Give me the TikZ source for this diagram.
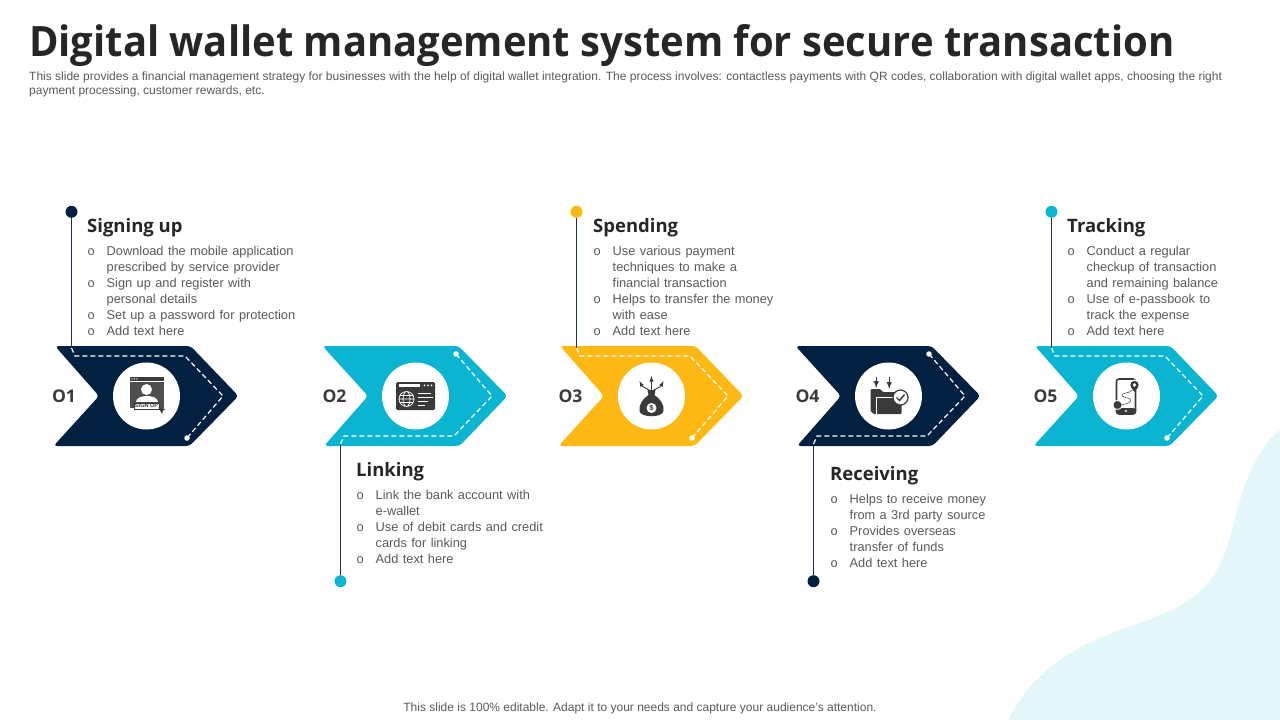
\documentclass[tikz,border=0pt]{standalone}
\usepackage{fontspec}
\setmainfont{Liberation Sans}
\newfontfamily\headfont{Open Sans}
\newfontfamily\titlefont[FakeStretch=0.955]{Open Sans}
\newfontfamily\listfont[WordSpace=1.24]{Liberation Sans}
\newfontfamily\bulletfont{Liberation Mono}
\usetikzlibrary{positioning}
\definecolor{navyblue}{HTML}{02203F}
\definecolor{tealblue}{HTML}{0BB4D0}
\definecolor{sunyellow}{HTML}{FDB813}
\definecolor{inkgrey}{HTML}{262626}
\definecolor{bodygrey}{HTML}{595959}
\definecolor{icongrey}{HTML}{3A3A3A}
\definecolor{blobblue}{HTML}{E3F6FA}
\newcommand{\bitem}{\makebox[19.5pt][l]{\hspace{.2pt}\bulletfont o}}
\newcommand{\bcont}{\hspace*{19.5pt}}

\tikzset{
    chevron/.pic={
        \fill[#1, rounded corners=3.5pt] (0,-50) -- (135.5,-50) -- (183.5,0) -- (134.5,50) -- (-1.5,50) -- (44,0) -- cycle;
        \coordinate (-start) at (16.5,-48);
        \draw[stitch] (-start) -- (20,-40) -- (130,-40) -- (168,0) -- (132,42);
        \node[stitchend] (-end) at (132,42) {};
        \node[disc] (-disc) at (91.5,0) {};
    },
    signupicon/.pic={
        \fill[icongrey] (-16.5,-19) rectangle (17,-15.5);
        \fill[white] (-14.5,-17.2) circle (0.7) (-12,-17.2) circle (0.7) (-9.5,-17.2) circle (0.7);
        \fill[icongrey!90!white] (-16.5,-14.5) rectangle (17,12);
        \fill[white] (0,-6.5) circle (5.5);
        \fill[white] (-11,6) .. controls (-11,-2) and (11,-2) .. (11,6) -- cycle;
        \node[fill=white, draw=icongrey, line width=.6pt, inner sep=1pt, font=\bfseries\fontsize{5.6}{5.6}\selectfont, text=icongrey] (-btn) at (0,10) {SIGN UP};
        \fill[icongrey] (12,11) -- (19,13) -- (16.5,14.5) -- (15.5,18) -- cycle;
    },
    webicon/.pic={
        \fill[icongrey, rounded corners=1.5pt] (-19.5,-14) rectangle (19.5,14);
        \fill[white] (-17,-12) rectangle (4,-9.5);
        \fill[white] (9,-10.7) circle (1) (12.5,-10.7) circle (1) (16,-10.7) circle (1);
        \draw[white, line width=.7pt] (-9,3) circle (7.5) (-9,3) ellipse (3.5 and 7.5) (-16.5,3) -- (-1.5,3) (-15.5,-.5) -- (-2.5,-.5) (-15.5,6.5) -- (-2.5,6.5);
        \draw[white, line width=.7pt] (2,-3) -- (15,-3) (2,1) -- (17,1) (2,5) -- (12,5) (2,9) -- (9,9);
    },
    bagicon/.pic={
        \draw[icongrey, line width=.9pt, -latex] (0,-5) -- (0,-20);
        \draw[icongrey, line width=.9pt, -latex] (-1,-5) .. controls (-4,-7) and (-9,-9) .. (-12,-15);
        \draw[icongrey, line width=.9pt, -latex] (1,-5) .. controls (4,-7) and (9,-9) .. (12,-15);
        \fill[icongrey] (-4,-6) -- (4,-6) -- (3,-1) .. controls (9,3) and (13,9) .. (12,15) .. controls (11,22) and (-11,22) .. (-12,15) .. controls (-13,9) and (-9,3) .. (-3,-1) -- cycle;
        \node[circle, fill=white, inner sep=0pt, minimum size=10pt, font=\bfseries\fontsize{7.5}{7.5}\selectfont, text=icongrey] (-coin) at (0,12) {\$};
    },
    foldericon/.pic={
        \draw[icongrey, line width=1.4pt, -latex] (-12.3,-19) -- (-12.3,-8);
        \draw[icongrey, line width=1.4pt, -latex] (.7,-19) -- (.7,-7);
        \fill[icongrey, rounded corners=1pt] (-18,-7) -- (-8,-7) -- (-6,-4) -- (13,-4) -- (13,18) -- (-15,18) -- (-18,15) -- cycle;
        \draw[white, line width=.9pt] (-12,18) -- (-12,1) -- (13,1);
        \node[circle, fill=white, draw=icongrey, line width=1.2pt, inner sep=0pt, minimum size=15pt] (-tick) at (12,1.5) {};
        \draw[icongrey, line width=1.4pt] (8,1.5) -- (11,4.5) -- (16,-1.5);
    },
    phoneicon/.pic={
        \draw[icongrey, line width=1.6pt, rounded corners=2.5pt] (-10,-17) rectangle (9,18);
        \fill[icongrey, rounded corners=2.5pt] (-10,12) rectangle (9,18);
        \fill[white] (-.5,15) circle (1.2);
        \fill[white] (8,-11) circle (5.5) (-9,9) circle (5);
        \draw[icongrey, line width=.5pt] (6,-6) .. controls (3,-2) and (-6,-4) .. (-4,0) .. controls (-2,3) and (6,1) .. (4,5) .. controls (2,8) and (-2,8) .. (-6,9);
        \fill[icongrey] (8,-11) circle (4.2) (-9,9) circle (4);
        \fill[icongrey] (4.7,-8.5) -- (11.3,-8.5) -- (8,-4) -- cycle;
        \fill[white] (8,-11) circle (1.8);
    }
}

\begin{document}
\begin{tikzpicture}[
    x=1pt, y=-1pt,
    node distance=10pt and 10pt,
    stitch/.style={draw=white, line width=1.2pt, dash pattern=on 5pt off 3pt},
    stitchend/.style={circle, fill=white, inner sep=0pt, minimum size=5.5pt},
    disc/.style={circle, fill=white, inner sep=0pt, minimum size=67pt},
    stem/.style={draw=navyblue!80!gray, line width=1.1pt},
    numlabel/.style={font=\headfont\bfseries\fontsize{17.5}{20}\selectfont, text=icongrey, inner sep=0pt},
    head/.style={anchor=base west, font=\headfont\bfseries\fontsize{18.5}{22}\selectfont, text=inkgrey, inner sep=0pt},
    blist/.style={anchor=north west, align=left, font=\listfont\fontsize{12.8}{16}\selectfont, text=bodygrey, inner sep=0pt},
    mydot/.style={circle, inner sep=0pt, minimum size=12pt}
    ]
    \useasboundingbox (0,0) rectangle (1280,720);

    \fill[blobblue] (1008,720) .. controls (1028,680) and (1060,652) .. (1120,630)
    .. controls (1180,608) and (1215,600) .. (1232,530)
    .. controls (1243,485) and (1255,450) .. (1280,430) -- (1280,720) -- cycle;

    \node[anchor=base west, inner sep=0pt, font=\titlefont\bfseries\fontsize{41.85}{50}\selectfont, text=inkgrey] (title) at (29,56) {Digital wallet management system for secure transaction};
    \node[anchor=north west, inner sep=0pt, align=left, font=\fontsize{12}{14}\selectfont, text=bodygrey] (subtitle) at (29,71.5) {This slide provides a financial management strategy for businesses with the help of digital wallet integration. The process involves: contactless payments with QR codes, collaboration with digital wallet apps, choosing the right\\payment processing, customer rewards, etc.};
    \node[inner sep=0pt, font=\fontsize{12}{14}\selectfont, text=bodygrey] (footer) at (640,708) {This slide is 100\% editable. Adapt it to your needs and capture your audience's attention.};

    \pic (one) at (55,396) {chevron=navyblue};
    \pic[yscale=-1] (two) at (324,396) {chevron=tealblue};
    \pic (three) at (560,396) {chevron=sunyellow};
    \pic[yscale=-1] (four) at (797,396) {chevron=navyblue};
    \pic (five) at (1035,396) {chevron=tealblue};

    \pic (signup) at (one-disc) {signupicon};
    \pic (web) at (two-disc) {webicon};
    \pic (bag) at (three-disc) {bagicon};
    \pic (folder) at (four-disc) {foldericon};
    \pic (phone) at (five-disc) {phoneicon};

    \node[numlabel] (n1) at (64,396) {O1};
    \node[numlabel] (n2) at (334.5,396) {O2};
    \node[numlabel] (n3) at (570.5,396) {O3};
    \node[numlabel] (n4) at (807.5,396) {O4};
    \node[numlabel] (n5) at (1045.5,396) {O5};

    \node[mydot, fill=navyblue, above=130pt of one-start] (d1) {};
    \node[mydot, fill=tealblue, below=131pt of two-start] (d2) {};
    \node[mydot, fill=sunyellow, above=130pt of three-start] (d3) {};
    \node[mydot, fill=navyblue, below=131pt of four-start] (d4) {};
    \node[mydot, fill=tealblue, above=130pt of five-start] (d5) {};

    \path (d1) edge[stem] (one-start)
    (d2) edge[stem] (two-start)
    (d3) edge[stem] (three-start)
    (d4) edge[stem] (four-start)
    (d5) edge[stem] (five-start)
    ;

    \node[head] (h1) at (87,232) {Signing up};
    \node[blist, below=9.5pt of h1.south west, anchor=north west] (l1) {\bitem Download the mobile application\\\bcont prescribed by service provider\\\bitem Sign up and register with\\\bcont personal details\\\bitem Set up a password for protection\\\bitem Add text here};

    \node[head] (h2) at (356,476) {Linking};
    \node[blist, below=9.5pt of h2.south west, anchor=north west] (l2) {\bitem Link the bank account with\\\bcont e-wallet\\\bitem Use of debit cards and credit\\\bcont cards for linking\\\bitem Add text here};

    \node[head] (h3) at (593,232) {Spending};
    \node[blist, below=9.5pt of h3.south west, anchor=north west] (l3) {\bitem Use various payment\\\bcont techniques to make a\\\bcont financial transaction\\\bitem Helps to transfer the money\\\bcont with ease\\\bitem Add text here};

    \node[head] (h4) at (830,480) {Receiving};
    \node[blist, below=9.5pt of h4.south west, anchor=north west] (l4) {\bitem Helps to receive money\\\bcont from a 3rd party source\\\bitem Provides overseas\\\bcont transfer of funds\\\bitem Add text here};

    \node[head] (h5) at (1067,232) {Tracking};
    \node[blist, below=9.5pt of h5.south west, anchor=north west] (l5) {\bitem Conduct a regular\\\bcont checkup of transaction\\\bcont and remaining balance\\\bitem Use of e-passbook to\\\bcont track the expense\\\bitem Add text here};

\end{tikzpicture}
\end{document}
